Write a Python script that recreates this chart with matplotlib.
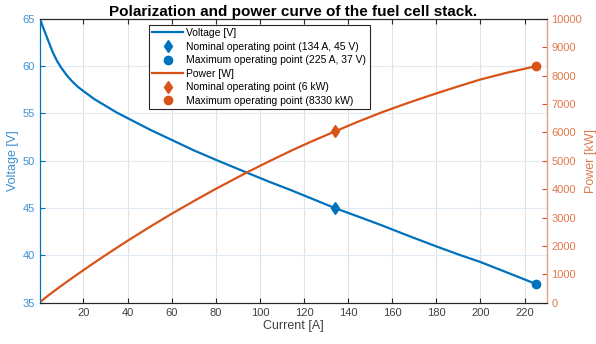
import numpy as np
import matplotlib
matplotlib.use("Agg")
import matplotlib.pyplot as plt
from matplotlib.lines import Line2D

plt.rcParams['font.family'] = ['Liberation Sans', 'DejaVu Sans']

# data
current = [0.3, 1.5, 3, 4.5, 6, 8, 10, 12.5, 15, 17.5, 20, 25, 30, 35, 40,
           50, 60, 70, 80, 94, 104, 114, 124, 134, 144, 155, 167, 180, 190,
           200, 212, 225]
voltage = [65.0, 64.2, 63.3, 62.4, 61.5, 60.55, 59.8, 59.0, 58.35, 57.8,
           57.35, 56.5, 55.8, 55.1, 54.5, 53.3, 52.2, 51.1, 50.1, 48.75, 47.8,
           46.9, 45.95, 45.0, 44.15, 43.2, 42.1, 40.95, 40.1, 39.3, 38.2, 37.0]
power = [20, 96, 190, 281, 369, 484, 598, 738, 875, 1012, 1147, 1413, 1674,
         1929, 2180, 2665, 3132, 3577, 4008, 4583, 4971, 5347, 5698, 6030,
         6358, 6696, 7031, 7371, 7619, 7860, 8098, 8325]

nom_point = (134, 45, 6030)
max_point = (225, 37, 8325)

x_ticks = list(range(20, 221, 20))
v_ticks = list(range(35, 66, 5))
p_ticks = list(range(0, 10001, 1000))

BLUE = '#0072BD'
ORANGE = '#D95319'
DARK = '#262626'

fig = plt.figure(figsize=(5.96, 3.44), dpi=100)
ax = fig.add_axes([0.0671, 0.120, 0.850, 0.8256])
ax2 = ax.twinx()

ax.plot(current, voltage, color=BLUE, lw=1.6)
ax.plot(nom_point[0], nom_point[1], 'd', color=BLUE, ms=6)
ax.plot(max_point[0], max_point[1], 'o', color=BLUE, ms=6)

ax2.plot(current, power, color=ORANGE, lw=1.6)
ax2.plot(nom_point[0], nom_point[2], 'd', color=ORANGE, ms=6)
ax2.plot(max_point[0], max_point[2], 'o', color=ORANGE, ms=6)

ax.set_xlim(0.3, 230)
ax.set_ylim(35, 65)
ax2.set_ylim(0, 10000)
ax.set_xticks(x_ticks)
ax.set_yticks(v_ticks)
ax2.set_yticks(p_ticks)

# grid
ax.xaxis.grid(True, color='#e3e3e3', lw=0.8)
ax.yaxis.grid(True, color='#e0ebf5', lw=0.8)
ax.set_axisbelow(True)

# axes styling
for s in ['top', 'bottom']:
    ax.spines[s].set_color(DARK)
    ax2.spines[s].set_color(DARK)
ax2.spines['left'].set_color(BLUE)
ax2.spines['right'].set_color('#e8a080')
ax.spines['left'].set_color(BLUE)
for a in (ax, ax2):
    for s in a.spines.values():
        s.set_linewidth(0.8)

ax.tick_params(axis='x', direction='in', top=True, length=3.5, colors=DARK,
               labelsize=8, labelcolor='#404040')
ax.tick_params(axis='y', direction='in', length=3.5, colors=BLUE,
               labelsize=8, labelcolor='#3d8fd1')
ax2.tick_params(axis='y', direction='in', length=3.5, colors=ORANGE,
                labelsize=8, labelcolor='#e07a4c')

ax.set_xlabel('Current [A]', fontsize=9, color='#404040', labelpad=2)
ax.set_ylabel('Voltage [V]', fontsize=9, color='#3d8fd1', labelpad=3)
ax2.set_ylabel('Power [kW]', fontsize=9, color='#e07a4c', labelpad=2)
ax.set_title('Polarization and power curve of the fuel cell stack.',
             fontsize=11, fontweight='bold', pad=2)

handles = [
    Line2D([], [], color=BLUE, lw=1.6),
    Line2D([], [], color=BLUE, marker='d', ls='none', ms=6),
    Line2D([], [], color=BLUE, marker='o', ls='none', ms=6),
    Line2D([], [], color=ORANGE, lw=1.6),
    Line2D([], [], color=ORANGE, marker='d', ls='none', ms=6),
    Line2D([], [], color=ORANGE, marker='o', ls='none', ms=6),
]
labels = ['Voltage [V]',
          'Nominal operating point (134 A, 45 V)',
          'Maximum operating point (225 A, 37 V)',
          'Power [W]',
          'Nominal operating point (6 kW)',
          'Maximum operating point (8330 kW)']
leg = ax2.legend(handles, labels, loc='upper left',
                 bbox_to_anchor=(149 / 596, 1 - 25 / 344),
                 bbox_transform=fig.transFigure, fontsize=7.5,
                 fancybox=False, framealpha=1, edgecolor=DARK,
                 borderpad=0.3, labelspacing=0.34, handlelength=3,
                 handletextpad=0.3, borderaxespad=0)
leg.get_frame().set_linewidth(0.8)

fig.savefig('out.png', dpi=100)
